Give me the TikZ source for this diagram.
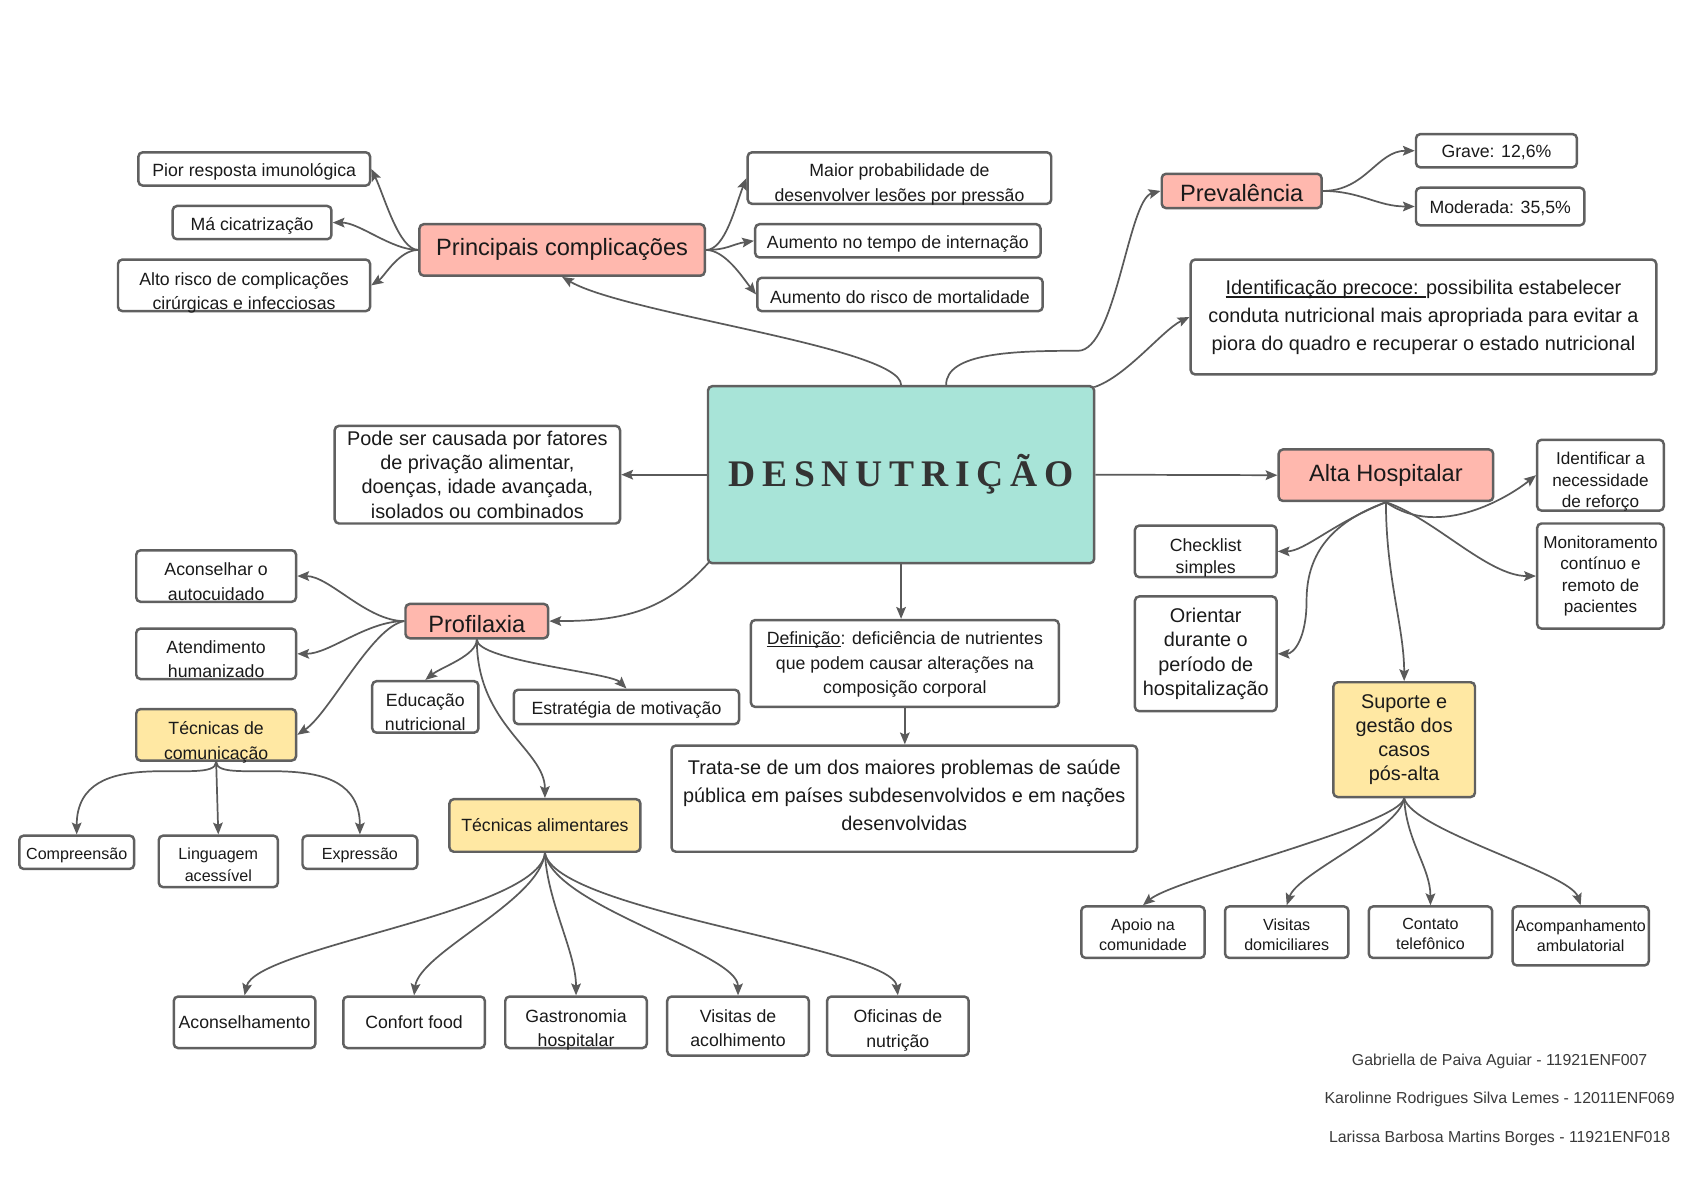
\documentclass[tikz,border=0pt]{standalone}
\usepackage{fontspec}
\setmainfont{Liberation Sans}
\newfontfamily\titlefont[LetterSpace=18]{Liberation Serif}
\usetikzlibrary{arrows.meta}
\definecolor{bordc}{HTML}{606060}
\definecolor{linec}{HTML}{5A5A5A}
\definecolor{pinkc}{HTML}{FFB8AE}
\definecolor{yelc}{HTML}{FFE8A3}
\definecolor{tealc}{HTML}{A8E4D8}
\definecolor{authc}{HTML}{3A3A3A}
\definecolor{titc}{HTML}{333333}
\definecolor{txtc}{HTML}{1A1A1A}
\newcommand\myul[1]{\setbox0\hbox{#1}\rlap{\rule[-2.6pt]{\wd0}{1pt}}\box0}
% box node (#2) with its text in node (#2-t), shifted down by #8
\newcommand\bx[9]{%
  \node[#1, minimum width=#5, minimum height=#6] (#2) at (#3,#4) {};
  \node[tx, #7] (#2-t) at (#3,{#4+#8}) {#9};}
\begin{document}
\begin{tikzpicture}[x=1pt,y=-1pt,
 box/.style={draw=bordc, line width=2.3pt, rounded corners=4pt, fill=white, inner sep=0pt},
 pinkbox/.style={box, fill=pinkc},
 yelbox/.style={box, fill=yelc},
 tx/.style={align=center, inner sep=0pt, text=txtc},
 fa/.style={font=\fontsize{15}{18.5}\selectfont},
 fl/.style={font=\fontsize{15}{20}\selectfont},
 fb/.style={font=\fontsize{16.5}{23}\selectfont},
 fm/.style={font=\fontsize{16}{20}\selectfont},
 fk/.style={font=\fontsize{16.5}{20.5}\selectfont},
 fc/.style={font=\fontsize{18.5}{26}\selectfont},
 fp/.style={font=\fontsize{18.5}{22.6}\selectfont},
 fd/.style={font=\fontsize{22}{26}\selectfont},
 auth/.style={font=\fontsize{14.8}{17}\selectfont, text=authc, inner sep=0pt},
 con/.style={draw=linec, line width=1.6pt, -{Stealth[length=11pt,width=9pt,inset=2pt]}},
]
\useasboundingbox (0,0) rectangle (1568,1109);
\fill[white] (0,0) rectangle (1568,1109);

% central
\node[box, fill=tealc, minimum width=360, minimum height=165] (desn) at (840,442.5)
  {\titlefont\bfseries\fontsize{35}{40}\selectfont\color{titc}DESNUTRIÇÃO};

% principais complicacoes
\bx{pinkbox}{pc}{524}{233}{266}{48}{fd}{0}{Principais complicações}
\bx{box}{pior}{237}{157.5}{216}{31}{fb}{3}{Pior resposta imunológica}
\bx{box}{ma}{235}{207.5}{148}{31}{fb}{3}{Má cicatrização}
\bx{box}{alto}{227.5}{266}{235}{48}{fb}{7}{Alto risco de complicações\\cirúrgicas e infecciosas}
\bx{box}{maior}{838.5}{166}{283}{48}{fb}{6}{Maior probabilidade de\\desenvolver lesões por pressão}
\bx{box}{tempo}{837}{224.5}{266}{31}{fb}{3}{Aumento no tempo de internação}
\bx{box}{morte}{839}{274.5}{266}{31}{fb}{2.5}{Aumento do risco de mortalidade}

% prevalencia
\bx{pinkbox}{prev}{1157.5}{178}{149}{32}{fd}{2}{Prevalência}
\bx{box}{grave}{1395}{140.5}{150}{31}{fb}{2}{Grave: 12,6\%}
\bx{box}{mod}{1398.5}{192.5}{157}{35}{fb}{2}{Moderada: 35,5\%}
\bx{box}{ident}{1327}{295.5}{434}{107}{fc}{0.5}{\myul{Identificação precoce: }possibilita estabelecer\\conduta nutricional mais apropriada para evitar a\\piora do quadro e recuperar o estado nutricional}

% pode ser causada
\bx{box}{pode}{445}{442.5}{266}{91}{fp}{0}{Pode ser causada por fatores\\de privação alimentar,\\doenças, idade avançada,\\isolados ou combinados}

% alta hospitalar
\bx{pinkbox}{alta}{1292}{443}{200}{48}{fd}{0}{Alta Hospitalar}
\bx{box}{reforco}{1492}{443}{118}{66}{fm}{6}{Identificar a\\necessidade\\de reforço}
\bx{box}{monit}{1492}{537}{118}{98}{fm}{0}{Monitoramento\\contínuo e\\remoto de\\pacientes}
\bx{box}{check}{1124}{514}{132}{48}{fk}{6}{Checklist\\simples}
\bx{box}{orient}{1124}{609.5}{132}{107}{fp}{0}{Orientar\\durante o\\período de\\hospitalização}
\bx{yelbox}{suporte}{1309}{689.5}{132}{107}{fp}{0}{Suporte e\\gestão dos\\casos\\pós-alta}

% definicao e trata-se
\bx{box}{defin}{843.5}{618.5}{287}{81}{fb}{1}{\myul{Definição}: deficiência de nutrientes\\que podem causar alterações na\\composição corporal}
\bx{box}{trata}{843}{744.5}{434}{99}{fc}{-3}{Trata-se de um dos maiores problemas de saúde\\pública em países subdesenvolvidos e em nações\\desenvolvidas}

% profilaxia
\bx{pinkbox}{prof}{444.5}{579}{133}{32}{fd}{2.5}{Profilaxia}
\bx{box}{acons}{201.5}{537}{149}{48}{fb}{5}{Aconselhar o\\autocuidado}
\bx{box}{atend}{201.5}{609.5}{149}{47}{fb}{5}{Atendimento\\humanizado}
\bx{yelbox}{tcom}{201.5}{685}{149}{48}{fb}{7}{Técnicas de\\comunicação}
\bx{box}{educ}{396.5}{659}{99}{48}{fb}{5}{Educação\\nutricional}
\bx{box}{estr}{584}{659}{210}{32}{fb}{3}{Estratégia de motivação}
\bx{yelbox}{talim}{508}{769.5}{178}{49}{fb}{0}{Técnicas alimentares}
\bx{box}{compr}{71.5}{794.5}{107}{31}{fa}{3}{Compreensão}
\bx{box}{ling}{203.5}{803}{111}{48}{fl}{3}{Linguagem\\acessível}
\bx{box}{expr}{335.5}{794.5}{107}{31}{fa}{3}{Expressão}

% bottom food boxes
\bx{box}{b1}{228}{953}{132}{48}{fb}{0}{Aconselhamento}
\bx{box}{b2}{386}{953}{132}{48}{fb}{0}{Confort food}
\bx{box}{b3}{537}{953}{132}{48}{fb}{7}{Gastronomia\\hospitalar}
\bx{box}{b4}{688}{956.5}{132}{55}{fb}{2}{Visitas de\\acolhimento}
\bx{box}{b5}{837}{956.5}{132}{55}{fb}{4}{Oficinas de\\nutrição}

% bottom right boxes
\bx{box}{r1}{1065.5}{869}{115}{48}{fa}{2}{Apoio na\\comunidade}
\bx{box}{r2}{1199.5}{869}{115}{48}{fa}{2}{Visitas\\domiciliares}
\bx{box}{r3}{1333.5}{869}{115}{48}{fa}{2}{Contato\\telefônico}
\bx{box}{r4}{1473.5}{872.5}{127}{55}{fa}{0}{Acompanhamento\\ambulatorial}

% authors
\node[auth] (a1) at (1398,989) {Gabriella de Paiva Aguiar - 11921ENF007};
\node[auth] (a2) at (1398,1025) {Karolinne Rodrigues Silva Lemes - 12011ENF069};
\node[auth] (a3) at (1398,1061) {Larissa Barbosa Martins Borges - 11921ENF018};

% helper coordinates
\coordinate (pv1) at (1005,327);
\coordinate (or1) at (1218,560);

% connectors from center
\draw[con] (desn.north) .. controls +(0,-35) and +(60,35) .. (pc.south);
\draw[con] ([xshift=42pt]desn.north) .. controls +(0,-30) and +(-60,0) .. (pv1) .. controls +(35,0) and +(-30,8) .. (prev.west);
\draw[con] ([xshift=-1pt,yshift=-2pt]desn.north east) .. controls +(30,-10) and +(-25,12) .. (ident.west);
\draw[con] (desn.west) -- (pode.east);
\draw[con] (desn.east) -- (alta.west);
\draw[con] (desn.south) -- (desn.south |- defin.north);
\draw[con] ([xshift=2pt,yshift=2pt]desn.south west) .. controls +(-40,45) and +(70,0) .. (prof.east);
\draw[con] (defin.south) -- (defin.south |- trata.north);

% principais complicacoes
\draw[con] (pc.west) .. controls +(-18,0) and +(12,25) .. (pior.east);
\draw[con] (pc.west) .. controls +(-25,0) and +(25,0) .. (ma.east);
\draw[con] (pc.west) .. controls +(-18,0) and +(12,-8) .. (alto.east);
\draw[con] (pc.east) .. controls +(18,0) and +(-10,25) .. (maior.west);
\draw[con] (pc.east) .. controls +(20,0) and +(-20,3) .. (tempo.west);
\draw[con] (pc.east) .. controls +(18,0) and +(-12,-15) .. (morte.west);

% prevalencia
\draw[con] (prev.east) .. controls +(40,0) and +(-35,0) .. (grave.west);
\draw[con] (prev.east) .. controls +(35,0) and +(-35,0) .. (mod.west);

% profilaxia
\draw[con] (prof.west) .. controls +(-35,0) and +(30,0) .. (acons.east);
\draw[con] (prof.west) .. controls +(-35,0) and +(30,0) .. (atend.east);
\draw[con] (prof.west) .. controls +(-30,5) and +(30,-20) .. (tcom.east);
\draw[con] (prof.south) .. controls +(0,15) and +(15,-12) .. (educ.north);
\draw[con] (prof.south) .. controls +(0,20) and +(-15,-15) .. (estr.north);
\draw[con] (prof.south) .. controls +(0,80) and +(0,-45) .. (talim.north);

% tecnicas de comunicacao
\draw[con] (tcom.south) .. controls +(0,25) and +(0,-88) .. (compr.north);
\draw[con] (tcom.south) -- (ling.north);
\draw[con] (tcom.south) .. controls +(0,25) and +(0,-88) .. (expr.north);

% tecnicas alimentares
\draw[con] (talim.south) .. controls +(-5,55) and +(10,-45) .. (b1.north);
\draw[con] (talim.south) .. controls +(-5,45) and +(5,-40) .. (b2.north);
\draw[con] (talim.south) .. controls +(2,45) and +(0,-40) .. (b3.north);
\draw[con] (talim.south) .. controls +(8,50) and +(0,-40) .. (b4.north);
\draw[con] (talim.south) .. controls +(10,55) and +(-5,-45) .. (b5.north);

% alta hospitalar
\draw[con] (alta.south) .. controls +(50,35) and +(-25,20) .. (reforco.west);
\draw[con] (alta.south) .. controls +(45,15) and +(-45,0) .. (monit.west);
\draw[con] (alta.south) .. controls +(-50,20) and +(25,0) .. (check.east);
\draw[con] (alta.south) .. controls +(-55,20) and +(0,-40) .. (or1) .. controls +(0,35) and +(15,0) .. (orient.east);
\draw[con] (alta.south) .. controls +(0,70) and +(0,-50) .. (suporte.north);

% suporte
\draw[con] (suporte.south) .. controls +(-5,25) and +(30,-25) .. (r1.north);
\draw[con] (suporte.south) .. controls +(-5,30) and +(10,-30) .. (r2.north);
\draw[con] (suporte.south) .. controls +(2,40) and +(0,-35) .. (r3.north);
\draw[con] (suporte.south) .. controls +(8,30) and +(-10,-30) .. (r4.north);
\end{tikzpicture}
\end{document}
